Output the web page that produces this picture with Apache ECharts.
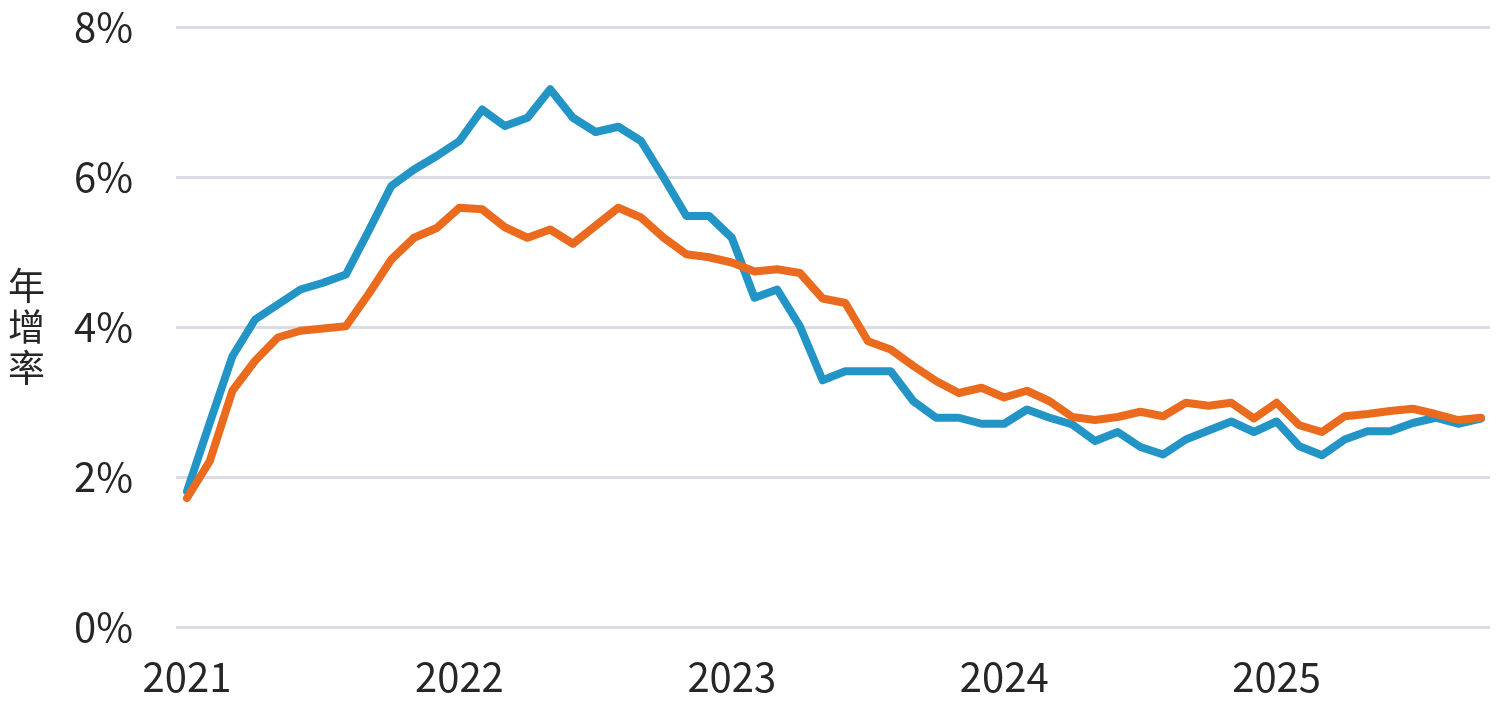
<!DOCTYPE html>
<html>
<head>
<meta charset="utf-8">
<script src="https://cdn.jsdelivr.net/npm/echarts@6/dist/echarts.min.js"></script>
<style>
html,body{margin:0;padding:0;background:#fff;}
#chart{width:1501px;height:716px;}
</style>
</head>
<body>
<div id="chart"></div>
<script>
// Month index 0 = Jan 2021 ... 57 = Oct 2025
const startYear = 2021;
const yearTickMonths = [0, 12, 24, 36, 48];
const yTicks = [0, 2, 4, 6, 8];

const seriesBlue = [
  1.81, 2.72, 3.61, 4.10, 4.30, 4.50, 4.59, 4.70, 5.28, 5.88, 6.10, 6.28,
  6.48, 6.90, 6.68, 6.79, 7.17, 6.79, 6.60, 6.67, 6.48, 5.99, 5.48, 5.48,
  5.19, 4.39, 4.50, 4.01, 3.29, 3.41, 3.41, 3.41, 3.01, 2.79, 2.79, 2.71,
  2.71, 2.90, 2.79, 2.70, 2.48, 2.60, 2.40, 2.30, 2.50, 2.62, 2.74, 2.60,
  2.74, 2.41, 2.29, 2.50, 2.61, 2.61, 2.72, 2.79, 2.71, 2.78
];
const seriesOrange = [
  1.72, 2.21, 3.15, 3.55, 3.86, 3.95, 3.98, 4.01, 4.44, 4.90, 5.19, 5.32,
  5.59, 5.57, 5.33, 5.19, 5.30, 5.11, 5.35, 5.59, 5.46, 5.19, 4.97, 4.93,
  4.86, 4.74, 4.77, 4.72, 4.38, 4.32, 3.81, 3.70, 3.48, 3.28, 3.12, 3.19,
  3.06, 3.15, 3.01, 2.80, 2.76, 2.80, 2.87, 2.81, 2.99, 2.95, 2.99, 2.78,
  2.99, 2.69, 2.60, 2.81, 2.84, 2.88, 2.91, 2.84, 2.76, 2.79
];

const toPairs = arr => arr.map((v, i) => [i, v]);
const FONT = '"Noto Sans CJK TC", "Noto Sans", sans-serif';
const chart = echarts.init(document.getElementById('chart'));
chart.setOption({
  animation: false,
  grid: { left: 176, right: 11, top: 27, bottom: 89, containLabel: false },
  xAxis: {
    type: 'value',
    min: -0.485,
    max: 57.4,
    axisLine: { show: false },
    axisTick: { show: false },
    splitLine: { show: false },
    axisLabel: {
      customValues: yearTickMonths,
      formatter: v => String(startYear + Math.round(v / 12)),
      fontFamily: FONT,
      fontSize: 40,
      color: '#262626',
      margin: 30
    }
  },
  yAxis: {
    type: 'value',
    min: 0,
    max: 8,
    interval: 2,
    name: '年\n增\n率',
    nameLocation: 'middle',
    nameRotate: 0,
    nameGap: 131,
    nameTextStyle: { fontFamily: FONT, fontSize: 37, lineHeight: 41, color: '#262626' },
    axisLine: { show: false },
    axisTick: { show: false },
    axisLabel: {
      formatter: v => v + '%',
      fontFamily: FONT,
      fontSize: 40,
      color: '#262626',
      margin: 43
    },
    splitLine: { lineStyle: { color: '#D9DCE3', width: 3 } }
  },
  series: [
    {
      type: 'line',
      data: toPairs(seriesBlue),
      showSymbol: false,
      lineStyle: { color: '#2394C6', width: 8, cap: 'round', join: 'round' },
      itemStyle: { color: '#2394C6' }
    },
    {
      type: 'line',
      data: toPairs(seriesOrange),
      showSymbol: false,
      lineStyle: { color: '#EA6B1E', width: 8, cap: 'round', join: 'round' },
      itemStyle: { color: '#EA6B1E' }
    }
  ]
});
</script>
</body>
</html>
